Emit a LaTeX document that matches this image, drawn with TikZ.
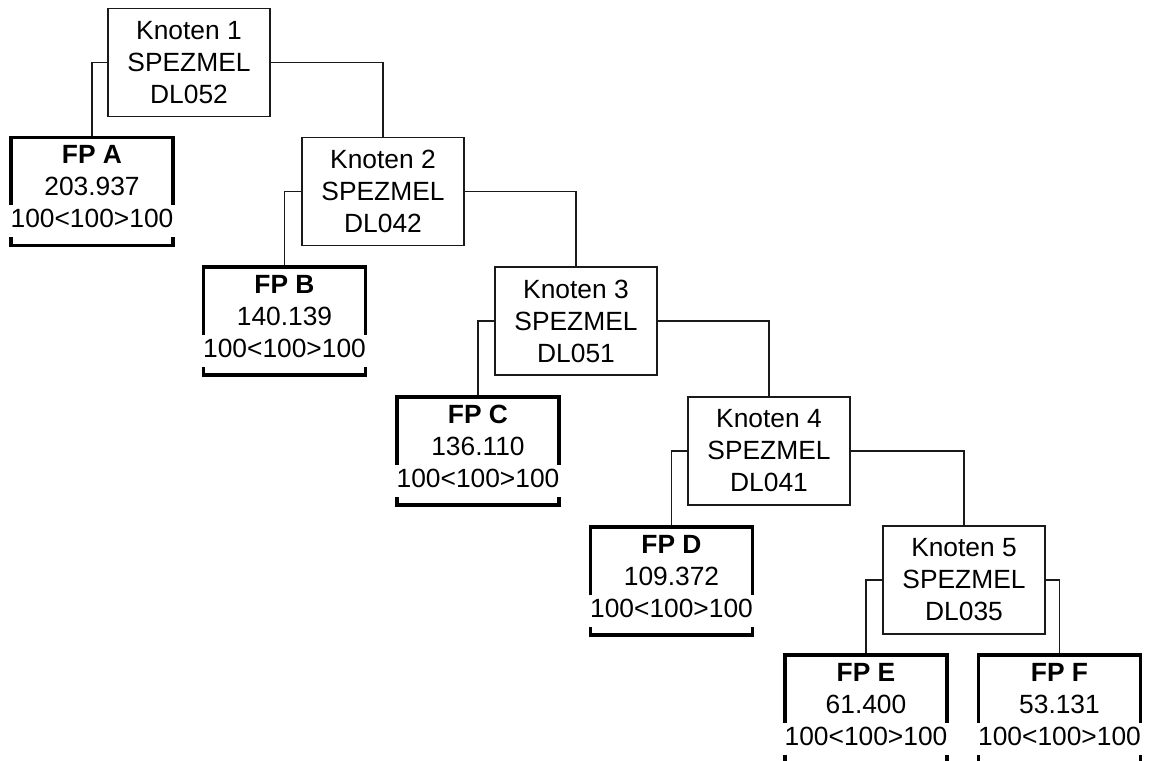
\documentclass[tikz,border=0pt]{standalone}
\usepackage{fontspec}
\setmainfont{Liberation Sans}
\usepackage{xcolor}
\usepackage{tikz}
\usetikzlibrary{positioning, calc}
\definecolor{treeLine}{HTML}{1A1A1A}
\newcommand{\covered}[1]{\makebox[0pt]{\setlength{\fboxsep}{0pt}\colorbox{white}{\strut\hspace{1.2pt}#1\hspace{1.2pt}}}}
\tikzset{
  tree/node/.style  = {rectangle, draw=treeLine, line width=0.8pt, fill=white,
                       align=center, minimum width=3.24cm, minimum height=2.16cm,
                       inner sep=0pt, font=\fontsize{15}{18.2}\selectfont},
  tree/leaf/.style  = {tree/node, line width=1.8pt, draw=black},
  tree/edge/.style  = {draw=treeLine, line width=0.8pt},
}
\begin{document}
\begin{tikzpicture}
  \useasboundingbox (0,0) rectangle (22.98,-15.2);
  \clip (0,0) rectangle (22.98,-15.2);
  % inner nodes
  \node[tree/node] (k1) at (3.78,-1.25)  {Knoten 1\\SPEZMEL\\DL052};
  \node[tree/node] (k2) at (7.66,-3.83)  {Knoten 2\\SPEZMEL\\DL042};
  \node[tree/node] (k3) at (11.52,-6.42) {Knoten 3\\SPEZMEL\\DL051};
  \node[tree/node] (k4) at (15.38,-9.02) {Knoten 4\\SPEZMEL\\DL041};
  \node[tree/node] (k5) at (19.28,-11.6) {Knoten 5\\SPEZMEL\\DL035};
  % leaves
  \node[tree/leaf] (fpa) at (1.84,-3.83)   {\textbf{FP A}\\203.937\\\covered{100<100>100}};
  \node[tree/leaf] (fpb) at (5.69,-6.42)   {\textbf{FP B}\\140.139\\\covered{100<100>100}};
  \node[tree/leaf] (fpc) at (9.56,-9.02)   {\textbf{FP C}\\136.110\\\covered{100<100>100}};
  \node[tree/leaf] (fpd) at (13.43,-11.62) {\textbf{FP D}\\109.372\\\covered{100<100>100}};
  \node[tree/leaf] (fpe) at (17.32,-14.18) {\textbf{FP E}\\61.400\\\covered{100<100>100}};
  \node[tree/leaf] (fpf) at (21.19,-14.18) {\textbf{FP F}\\53.131\\\covered{100<100>100}};
  % connectors
  \draw[tree/edge] (k1.west) -| (fpa.north);
  \draw[tree/edge] (k1.east) -| (k2.north);
  \draw[tree/edge] (k2.west) -| (fpb.north);
  \draw[tree/edge] (k2.east) -| (k3.north);
  \draw[tree/edge] (k3.west) -| (fpc.north);
  \draw[tree/edge] (k3.east) -| (k4.north);
  \draw[tree/edge] (k4.west) -| (fpd.north);
  \draw[tree/edge] (k4.east) -| (k5.north);
  \draw[tree/edge] (k5.west) -| (fpe.north);
  \draw[tree/edge] (k5.east) -| (fpf.north);
\end{tikzpicture}
\end{document}
